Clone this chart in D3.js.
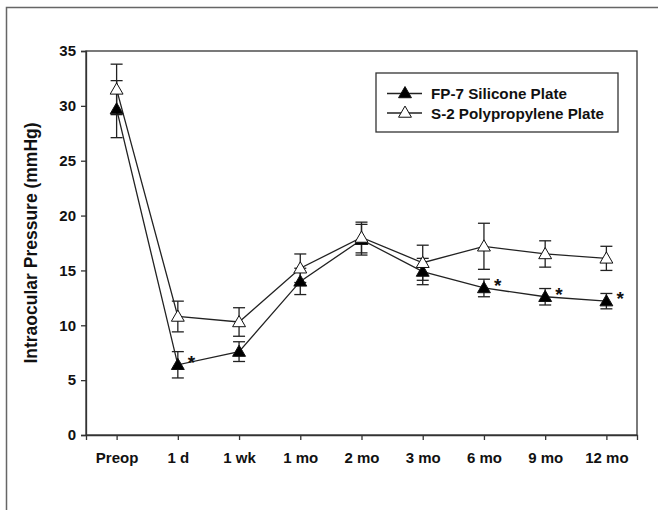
<!DOCTYPE html>
<meta charset="utf-8">
<html>
<style>
body { margin: 0; background: #fff; }
text { font-family: "Liberation Sans", Arial, Helvetica, sans-serif; font-weight: bold; fill: #111; }
</style>
<svg width="658" height="510"></svg>
<script src="https://d3js.org/d3.v7.min.js"></script>
<script>
// time points
var timepoints = ["Preop", "1 d", "1 wk", "1 mo", "2 mo", "3 mo", "6 mo", "9 mo", "12 mo"];
// FP-7 Silicone Plate (filled triangles)
var fp7Mean = [29.7, 6.4, 7.6, 14.0, 17.8, 14.9, 13.4, 12.6, 12.2];
var fp7Err  = [2.6, 1.2, 0.9, 1.2, 1.4, 1.2, 0.8, 0.75, 0.7];
// S-2 Polypropylene Plate (open triangles)
var s2Mean = [31.5, 10.8, 10.3, 15.2, 18.0, 15.7, 17.2, 16.5, 16.1];
var s2Err  = [2.3, 1.4, 1.3, 1.3, 1.4, 1.6, 2.1, 1.2, 1.1];
// significance markers on FP-7
var starred = ["1 d", "6 mo", "9 mo", "12 mo"];
var yTicks = [0, 5, 10, 15, 20, 25, 30, 35];

var svg = d3.select("svg"),
    margin = {top: 51, right: 21, bottom: 75, left: 86},
    width = 658 - margin.left - margin.right,
    height = 510 - margin.top - margin.bottom;

// outer frame (only top/left visible)
svg.append("rect")
    .attr("x", 6.5).attr("y", 7.5)
    .attr("width", 700).attr("height", 600)
    .attr("fill", "none").attr("stroke", "#666").attr("stroke-width", 1.5);

var g = svg.append("g").attr("transform", "translate(" + margin.left + "," + margin.top + ")");

var x = d3.scalePoint().domain(timepoints).range([0, width]).padding(0.5);
var y = d3.scaleLinear().domain([0, 35]).range([height, 0]);

// plot frame
g.append("rect")
    .attr("width", width).attr("height", height)
    .attr("fill", "none").attr("stroke", "#333").attr("stroke-width", 1.3);

var yAxis = g.append("g")
    .call(d3.axisLeft(y).tickValues(yTicks).tickSize(5).tickPadding(5));
var xAxis = g.append("g")
    .attr("transform", "translate(0," + height + ")")
    .call(d3.axisBottom(x).tickSize(5).tickPadding(12));
[xAxis, yAxis].forEach(function(a) {
  a.select(".domain").attr("stroke", "#333").attr("stroke-width", 1.3);
  a.selectAll(".tick line").attr("stroke", "#333").attr("stroke-width", 1.3);
  a.selectAll("text").style("font-size", "15px").attr("fill", "#111")
    .style("font-family", "'Liberation Sans', Arial, sans-serif").style("font-weight", "bold");
});

svg.append("text")
    .attr("transform", "translate(37," + (margin.top + height / 2) + ") rotate(-90)")
    .attr("text-anchor", "middle")
    .style("font-size", "17.5px")
    .text("Intraocular Pressure (mmHg)");

var series = [
  {mean: fp7Mean, err: fp7Err, fill: "#000"},
  {mean: s2Mean, err: s2Err, fill: "#fff"}
];

var line = d3.line().x(function(d, i) { return x(timepoints[i]); }).y(function(d) { return y(d); });
var tri = d3.symbol().type(d3.symbolTriangle).size(72);
var capW = 6;

series.forEach(function(s) {
  var eb = g.append("g").attr("stroke", "#222").attr("stroke-width", 1.3);
  s.mean.forEach(function(m, i) {
    var cx = x(timepoints[i]);
    eb.append("line").attr("x1", cx).attr("x2", cx).attr("y1", y(m - s.err[i])).attr("y2", y(m + s.err[i]));
    [m - s.err[i], m + s.err[i]].forEach(function(v) {
      eb.append("line").attr("x1", cx - capW).attr("x2", cx + capW).attr("y1", y(v)).attr("y2", y(v));
    });
  });
});

series.forEach(function(s) {
  g.append("path").datum(s.mean).attr("d", line)
      .attr("fill", "none").attr("stroke", "#222").attr("stroke-width", 1.3);
});

series.forEach(function(s) {
  g.selectAll(null).data(s.mean).join("path")
      .attr("d", tri)
      .attr("transform", function(d, i) { return "translate(" + x(timepoints[i]) + "," + (y(d) + 1) + ")"; })
      .attr("fill", s.fill).attr("stroke", "#111").attr("stroke-width", 1);
});

g.selectAll(".star").data(starred).join("text")
    .attr("class", "star")
    .attr("x", function(d) { return x(d) + 10; })
    .attr("y", function(d) { return y(fp7Mean[timepoints.indexOf(d)]) + 4; })
    .style("font-size", "19px")
    .text("*");

// legend
var leg = svg.append("g").attr("transform", "translate(376,73)");
leg.append("rect").attr("width", 242).attr("height", 59)
    .attr("fill", "#fff").attr("stroke", "#333").attr("stroke-width", 1.3);
var legItems = [
  {label: "FP-7 Silicone Plate", fill: "#000"},
  {label: "S-2 Polypropylene Plate", fill: "#fff"}
];
legItems.forEach(function(d, i) {
  var ly = 20.5 + i * 19.5;
  leg.append("line").attr("x1", 11).attr("x2", 46).attr("y1", ly).attr("y2", ly)
      .attr("stroke", "#222").attr("stroke-width", 1.3);
  leg.append("path").attr("d", tri).attr("transform", "translate(29," + (ly + 0.5) + ")")
      .attr("fill", d.fill).attr("stroke", "#111").attr("stroke-width", 1);
  leg.append("text").attr("x", 55).attr("y", ly + 5.5).style("font-size", "15.2px").text(d.label);
});
</script>
</html>
